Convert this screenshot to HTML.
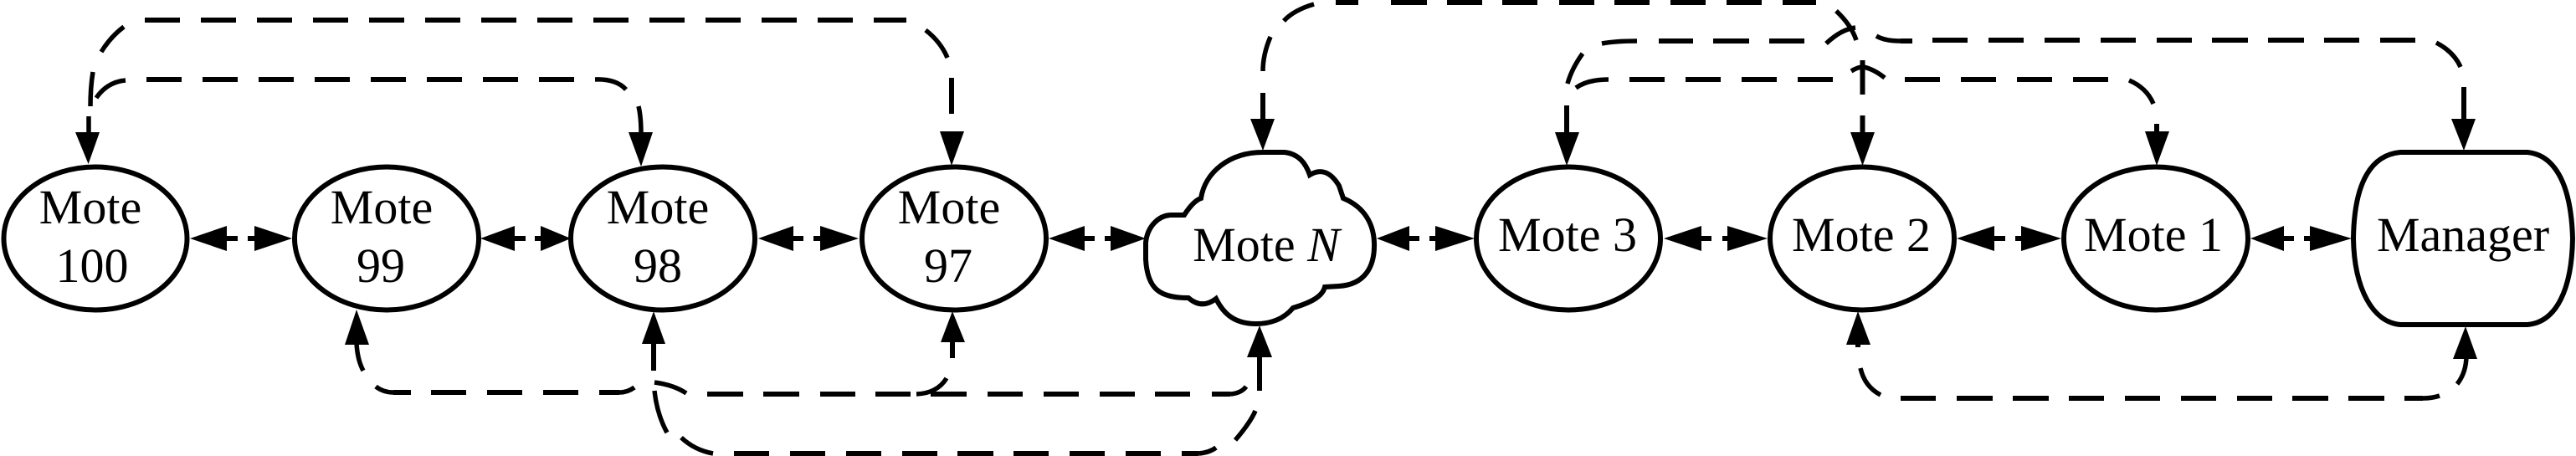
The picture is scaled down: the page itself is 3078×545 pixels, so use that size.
<!DOCTYPE html>
<html><head><meta charset="utf-8"><style>
html,body{margin:0;padding:0;background:#fff}
svg{display:block}
text{font-family:"Liberation Serif","Times New Roman",serif;font-size:58px;fill:#000;text-anchor:middle}
.l{fill:none;stroke:#000;stroke-width:6}
.c{fill:none;stroke:#000;stroke-width:5.5}
.n{fill:#fff;stroke:#000;stroke-width:6}
.d{stroke-dasharray:42 25}
</style></head><body>
<svg width="3078" height="545" viewBox="0 0 3078 545" xmlns="http://www.w3.org/2000/svg">
<!-- A: top left -->
<path class="l d" d="M173 24H1083"/>
<path class="c" d="M148 32Q132 44 121 62M111 86Q108 105 108 127M106 139V160M1106 36Q1124 50 1132 69"/>
<path class="l" d="M1137 93V136"/>
<!-- B -->
<path class="l d" d="M175 95H690"/>
<path class="c" d="M711 95Q736 94 748 107M150 96Q128 98 115 117M763 127Q766 140 766 160"/>
<!-- C -->
<path class="l" d="M491 469H470M515 469H557M582 469H624M649 469H691M716 469H740"/>
<path class="c" d="M449 462Q458 469 470 469M740 469Q750 469 758 463M434 443Q427 430 426 410"/>
<!-- D / E -->
<path class="l" d="M781 443V410"/>
<path class="c" d="M782 467Q785 495 797 517M782 457Q805 460 820 470"/>
<path class="l" d="M845 471H888M912 471H955M980 471H1022M1046 471H1088M1112 471H1155M1180 471H1222M1247 471H1289M1314 471H1356M1380 471H1422M1448 471H1470"/>
<path class="c" d="M1095 471Q1120 470 1131 452M1470 471Q1483 470 1489 462"/>
<path class="l" d="M1138 428V405M1505 467V425"/>
<!-- bottom -->
<path class="c" d="M814 523Q830 538 852 542M1432 542Q1445 541 1453 535M1476 526Q1494 505 1500 491"/>
<path class="l" d="M877 542H919M944 542H986M1011 542H1053M1078 542H1120M1144 542H1187M1211 542H1253M1278 542H1320M1345 542H1387M1412 542H1432"/>
<!-- top to Mote N -->
<path class="c" d="M1570 5Q1546 12 1534 25M1518 44Q1509 65 1509 85"/>
<path class="l" d="M1509 111V145M1596 3H1623M1662 3H1705M1729 3H1771M1795 3H1837M1863 3H1905M1929 3H1971M1996 3H2038M2063 3H2105M2130 3H2170"/>
<path class="c" d="M2194 13Q2212 30 2218 48M1914 52Q1930 49 1956 49M2182 52Q2200 35 2217 33M2242 43Q2252 49 2271 49M2911 51Q2932 62 2940 80M1891 64Q1878 82 1873 100"/>
<path class="l" d="M1982 49H2023M2047 49H2090M2114 49H2156M2271 49H2285M2309 48H2351M2376 48H2418M2443 48H2485M2510 48H2552M2577 48H2619M2643 48H2686M2710 48H2753M2777 48H2819M2844 48H2886M2944 104V145M1872 126V160"/>
<!-- G -->
<path class="c" d="M1883 105Q1897 95 1922 95M2212 85Q2220 80 2226 80Q2238 82 2252 93M2544 96Q2565 105 2573 124"/>
<path class="l" d="M1947 95H1989M2014 95H2056M2081 95H2123M2148 95H2190M2276 95H2318M2343 95H2385M2410 95H2452M2477 95H2519M2577 148V160M2225.500 72V113M2225.500 138V160"/>
<!-- bottom right -->
<path class="l" d="M2220 415V405M2271 476H2313M2338 476H2381M2405 476H2448M2472 476H2514M2539 476H2581M2606 476H2648M2673 476H2715M2739 476H2782M2806 476H2849M2873 476H2895"/>
<path class="c" d="M2223 440Q2228 462 2247 472M2895 476Q2906 476 2915 473M2936 459Q2947 445 2947 425"/>
<!-- horizontal stubs -->
<path class="l" d="M271 285H284M296 285H304M615 285H628M639 285H646M948 285H960M972 285H980M1296 285H1308M1320 285H1327M1684 285H1696M1708 285H1715M2033 285H2045M2058 285H2064M2383 285H2396M2408 285H2415M2729 285H2741M2753 285H2760"/>
<!-- nodes -->
<ellipse class="n" cx="114" cy="285" rx="109.500" ry="85.500"/>
<ellipse class="n" cx="462" cy="285" rx="110" ry="85.500"/>
<ellipse class="n" cx="792" cy="285" rx="110" ry="85.500"/>
<ellipse class="n" cx="1140" cy="285" rx="110" ry="85.500"/>
<ellipse class="n" cx="1874" cy="285" rx="110" ry="85.500"/>
<ellipse class="n" cx="2225" cy="285" rx="110" ry="85.500"/>
<ellipse class="n" cx="2576" cy="285" rx="110" ry="85.500"/>
<path class="n" d="M1415 257Q1426 240 1435 237C1440 205 1470 182 1509 182L1535 182C1552 184 1560 195 1565 209Q1585 197 1600 222L1605 237C1625 245 1641 262 1642 290C1643 320 1630 340 1600 342L1583 343C1580 355 1565 362 1545 368C1535 380 1520 387 1501 387C1475 387 1462 375 1453 357Q1436 370 1420 356C1385 356 1371 345 1369 310L1369 290C1371 270 1385 257 1400 257Z"/>
<path class="n" d="M2868 182H3020C3050 185 3072 215 3074 285C3073 345 3055 385 3020 388H2868C2835 385 2813 345 2812 285C2813 215 2835 185 2868 182Z"/>
<!-- vertical arrowheads: down -->
<path d="M105.600 196L90 158H119ZM1137 198L1123 157H1152ZM766 199L751 158H780ZM1509 180L1494 142H1523ZM2944 180L2929 142H2958ZM1872 198L1858 158H1887ZM2225.500 198L2211 158H2240ZM2577 198L2563 157H2592Z"/>
<!-- vertical arrowheads: up -->
<path d="M426 370L412 412H441ZM781 372L767 411H795ZM1138 372L1124 409H1153ZM1505 389L1490 427H1520ZM2220 372L2206 412H2235ZM2946 390L2931 429H2960Z"/>
<!-- horizontal arrowheads -->
<path d="M227 285L271 270V300ZM349 285L304 270V300ZM574 285L615 270V300ZM682 285L646 270V300ZM906 285L948 270V300ZM1026 285L980 270V300ZM1253 285L1296 270V300ZM1369 285L1327 270V300ZM1645 285L1684 270V300ZM1762 285L1715 270V300ZM1988 285L2033 270V300ZM2112 285L2064 270V300ZM2338 285L2383 270V300ZM2463 285L2415 270V300ZM2689 285L2729 270V300ZM2810 285L2760 270V300Z"/>
<!-- labels -->
<text x="108" y="267">Mote</text><text x="110" y="337">100</text>
<text x="456" y="267">Mote</text><text x="455" y="337">99</text>
<text x="786" y="267">Mote</text><text x="786" y="337">98</text>
<text x="1134" y="267">Mote</text><text x="1133" y="337">97</text>
<text x="1513" y="312">Mote <tspan font-style="italic">N</tspan></text>
<text x="1873" y="300">Mote 3</text>
<text x="2224" y="300">Mote 2</text>
<text x="2573" y="300">Mote 1</text>
<text x="2943" y="300">Manager</text>
</svg>
</body></html>
